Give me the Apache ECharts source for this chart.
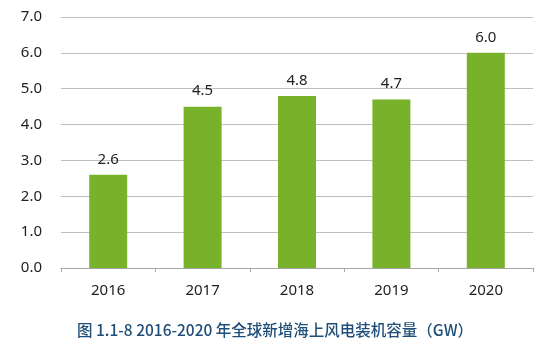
<!DOCTYPE html>
<html lang="zh-CN">
<head>
  <meta charset="UTF-8">
  <title>2016-2020 年全球新增海上风电装机容量</title>
  <script src="https://cdn.jsdelivr.net/npm/echarts@6.0.0/dist/echarts.min.js"></script>
  <style>
    html, body { margin: 0; padding: 0; width: 550px; height: 352px; background: #ffffff; }
    #chart { width: 550px; height: 352px; }
  </style>
</head>
<body>
  <div id="chart"></div>
  <script>
    // 数据
    const years = ['2016', '2017', '2018', '2019', '2020'];
    const capacity = [2.6, 4.5, 4.8, 4.7, 6.0];
    const captionText = '图 1.1-8 2016-2020 年全球新增海上风电装机容量（GW）';

    const chart = echarts.init(document.getElementById('chart'), null, { renderer: 'canvas' });

    const option = {
      backgroundColor: '#ffffff',
      animation: false,
      title: {
        text: captionText,
        left: 'center',
        top: 317,
        textStyle: {
          fontFamily: 'Noto Sans CJK SC',
          fontSize: 15.5,
          fontWeight: 500,
          color: '#1f4e79'
        }
      },
      grid: { left: 61, right: 17, top: 17, bottom: 84 },
      xAxis: {
        type: 'category',
        data: years,
        axisLine: { lineStyle: { color: '#a6a6a6' } },
        axisTick: { show: true, alignWithLabel: false, length: 4, lineStyle: { color: '#a6a6a6' } },
        axisLabel: { color: '#222222', fontSize: 15, margin: 15, fontFamily: 'Noto Sans' }
      },
      yAxis: {
        type: 'value',
        min: 0,
        max: 7,
        interval: 1,
        axisLine: { show: false },
        axisTick: { show: false },
        axisLabel: {
          color: '#222222',
          fontSize: 15,
          margin: 19,
          fontFamily: 'Noto Sans',
          formatter: v => v.toFixed(1)
        },
        splitLine: { lineStyle: { color: '#bfbfbf' } }
      },
      series: [{
        type: 'bar',
        data: capacity,
        barWidth: 38,
        itemStyle: { color: '#78b22b' },
        label: {
          show: true,
          position: 'top',
          distance: 8,
          color: '#222222',
          fontSize: 15,
          fontFamily: 'Noto Sans',
          formatter: p => p.value.toFixed(1)
        }
      }]
    };

    chart.setOption(option);
  </script>
</body>
</html>
